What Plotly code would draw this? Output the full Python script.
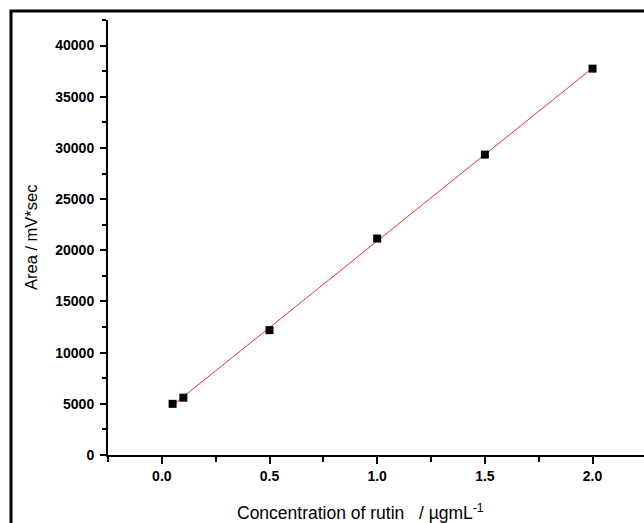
import numpy as np
import plotly.graph_objects as go

# Data
concentration = [0.05, 0.1, 0.5, 1.0, 1.5, 2.0]
area = [5000, 5600, 12200, 21150, 29350, 37750]

x_ticks = [0.0, 0.5, 1.0, 1.5, 2.0]
x_ticklabels = ["0.0", "0.5", "1.0", "1.5", "2.0"]
y_ticks = [0, 5000, 10000, 15000, 20000, 25000, 30000, 35000, 40000]
y_ticklabels = ["0", "5000", "10000", "15000", "20000", "25000", "30000", "35000", "40000"]

# Linear calibration fit
slope, intercept = np.polyfit(concentration, area, 1)
fit_x = [min(concentration), max(concentration)]
fit_y = [slope * v + intercept for v in fit_x]

W, H = 644, 523
L, R, T, B = 108, 0, 20, 68

fig = go.Figure()
fig.add_trace(go.Scatter(x=fit_x, y=fit_y, mode="lines",
                         line=dict(color="#e8303c", width=1), showlegend=False))
fig.add_trace(go.Scatter(x=concentration, y=area, mode="markers",
                         marker=dict(symbol="square", size=8, color="black",
                                     line=dict(width=0)),
                         showlegend=False))

pw = W - L - R
ph = H - T - B
fx = lambda px: (px - L) / pw
fy = lambda py: (H - B - py) / ph

FONT = "Liberation Sans, Arial, sans-serif"

fig.update_layout(
    width=W, height=H,
    margin=dict(l=L, r=R, t=T, b=B, pad=0),
    paper_bgcolor="white", plot_bgcolor="white",
    font=dict(family=FONT, color="black"),
    xaxis=dict(range=[-0.25, 2.239], tickvals=x_ticks, ticktext=x_ticklabels,
               showgrid=False, zeroline=False, showline=True, linecolor="black",
               linewidth=2, ticks="outside", ticklen=7, tickwidth=1.5, tickcolor="black",
               tickfont=dict(size=14, family=FONT, weight="bold"),
               minor=dict(tickvals=[-0.25, 0.25, 0.75, 1.25, 1.75], ticks="outside",
                          ticklen=5, tickwidth=1.5, tickcolor="black", showgrid=False)),
    yaxis=dict(range=[0, 42500], tickvals=y_ticks, ticktext=y_ticklabels,
               showgrid=False, zeroline=False, showline=True, linecolor="black",
               linewidth=2, ticks="outside", ticklen=6, tickwidth=1.5, tickcolor="black",
               ticklabelstandoff=3,
               tickfont=dict(size=14, family=FONT, weight="bold"),
               minor=dict(tickvals=[2500, 7500, 12500, 17500, 22500, 27500, 32500, 37500, 42500],
                          ticks="outside", ticklen=4, tickwidth=1.5, tickcolor="black",
                          showgrid=False)),
    shapes=[dict(type="rect", xref="paper", yref="paper",
                 x0=fx(11), x1=fx(W + 20), y0=fy(H + 20), y1=fy(11),
                 line=dict(color="black", width=3), fillcolor="rgba(0,0,0,0)",
                 layer="above")],
    annotations=[
        dict(text="Concentration of rutin   / µgmL<sup>-1</sup>", xref="paper", yref="paper",
             x=fx(360), y=fy(512), showarrow=False, xanchor="center", yanchor="middle",
             font=dict(size=17.5, family=FONT)),
        dict(text="Area / mV*sec", xref="paper", yref="paper",
             x=fx(31), y=fy(238), showarrow=False, textangle=-90,
             xanchor="center", yanchor="middle",
             font=dict(size=16.5, family=FONT)),
    ],
)

fig.write_html("out.html")
